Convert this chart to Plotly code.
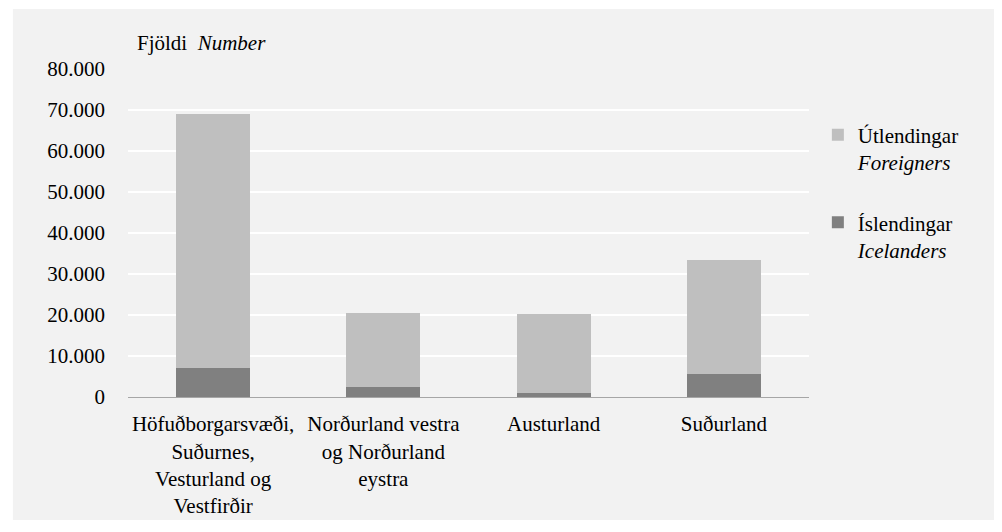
import plotly.graph_objs as go

# colours
PANEL = '#f2f2f2'
PLOT_BG = '#d9d9d9'
COLOR_FOREIGN = '#bfbfbf'
COLOR_ICE = '#808080'
FONT = 'Liberation Serif'

# data
regions = [
    'Höfuðborgarsvæði,<br>Suðurnes,<br>Vesturland og<br>Vestfirðir',
    'Norðurland vestra<br>og Norðurland<br>eystra',
    'Austurland',
    'Suðurland',
]
icelanders = [7100, 2400, 1000, 5600]
foreigners = [61900, 18100, 19200, 27800]
y_ticks = [0, 10000, 20000, 30000, 40000, 50000, 60000, 70000, 80000]

fig = go.Figure()
fig.add_trace(go.Bar(
    x=regions, y=icelanders, name='Íslendingar<br><i>Icelanders</i>',
    marker_color=COLOR_ICE, marker_line_width=0,
    legendgroup='ice', legendrank=2
))
fig.add_trace(go.Bar(
    x=regions, y=foreigners, name='Útlendingar<br><i>Foreigners</i>',
    marker_color=COLOR_FOREIGN, marker_line_width=0,
    legendgroup='for', legendrank=1
))

# page body has an 8px margin, so the figure is drawn 8px smaller
fig.update_layout(
    width=994,
    height=524,
    barmode='stack',
    bargap=0.565,
    separators=',.',
    paper_bgcolor='white',
    plot_bgcolor=PLOT_BG,
    font=dict(family=FONT, size=21, color='black'),
    margin=dict(l=120, r=193, t=61, b=135),
    xaxis=dict(
        showline=True, linecolor='#a6a6a6', linewidth=1,
        showgrid=False, ticks='', ticklabelstandoff=8,
        tickfont=dict(family=FONT, size=21),
    ),
    yaxis=dict(
        range=[0, 80000], tickmode='array', tickvals=y_ticks,
        tickformat=',d', showgrid=True, gridcolor='white', gridwidth=2,
        zeroline=False, ticks='', ticklabelstandoff=22,
        tickfont=dict(family=FONT, size=21),
    ),
    legend=dict(
        x=1.013, xanchor='left', y=0.861, yanchor='top',
        valign='top', tracegroupgap=30, traceorder='grouped',
        bgcolor='rgba(0,0,0,0)',
        font=dict(family=FONT, size=21),
    ),
    shapes=[dict(
        type='rect', xref='paper', yref='paper', layer='below',
        x0=-0.169, x1=1.276, y0=-0.375, y1=1.183,
        fillcolor=PANEL, line_width=0,
    )],
    annotations=[dict(
        text='Fjöldi  <i>Number</i>', xref='paper', yref='paper',
        x=0.01, y=1.037, xanchor='left', yanchor='bottom',
        showarrow=False, font=dict(family=FONT, size=21),
    )],
)

fig.write_html('out.html')
